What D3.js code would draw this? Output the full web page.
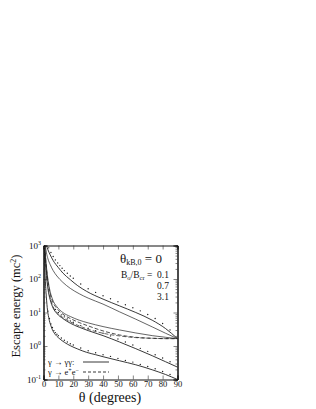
<!DOCTYPE html>
<html>
<head>
<meta charset="utf-8">
<script src="https://cdn.jsdelivr.net/npm/d3@7"></script>
<style>
  body { margin: 0; background: #fff; }
  text { font-family: "Liberation Serif", "DejaVu Serif", serif; fill: #111; }
</style>
</head>
<body>
<div id="chart"></div>
<script>
// frame of the plot inside the 316x409 page
const margin = { t: 245.5, r: 138.5, b: 29.5, l: 43.5 };
const W = 316, H = 409;

// x ticks (degrees) and y decades
const xTicks = [0, 10, 20, 30, 40, 50, 60, 70, 80, 90];
const yDecades = [-1, 0, 1, 2, 3];
const bLabels = ["0.1", "0.7", "3.1"];

// B0/Bcr = 0.1, photon splitting (solid)
const thetaTop = [2, 3, 4.5, 6.5, 10, 13, 18, 23, 29, 40, 51, 62, 73, 82, 90];
const energyTop = [1000, 741, 525, 355, 219, 151, 95.5, 63.1, 42.7, 25.1, 15.8, 10.0, 5.89, 3.31, 1.66];

// dots along the top curve
const thetaTopDots = [3.5, 5, 6.5, 8, 9.5, 11, 12.5, 14, 16, 18, 20, 25, 30, 35, 40, 45, 50, 55, 60, 65, 70, 75, 80, 85];
const energyTopDots = [851, 617, 468, 372, 302, 251, 209, 178, 148, 123, 105, 70.8, 51.3, 39.8, 31.6, 25.7, 20.9, 17.0, 13.8, 11.2, 8.71, 6.61, 4.68, 3.02];

// second curve
const thetaSecond = [1.2, 2, 3, 4.5, 6.5, 9, 13, 18, 24, 30, 40, 51, 62, 73, 82, 90];
const energySecond = [1000, 603, 398, 269, 178, 123, 79.4, 52.5, 36.3, 26.9, 17.8, 10.5, 6.31, 3.72, 2.40, 1.66];

// middle bundle
const thetaMid = [0.8, 1.5, 2.5, 4, 6, 9, 13, 18, 24, 30, 40, 51, 62, 73, 82, 90];
const energyUpper = [1000, 398, 141, 52.5, 25.1, 14.8, 10.0, 7.59, 5.89, 4.90, 3.80, 3.02, 2.45, 2.04, 1.82, 1.66];
const energyPair = [1000, 355, 126, 45.7, 21.9, 13.2, 8.91, 6.61, 5.01, 3.98, 2.82, 2.14, 1.82, 1.70, 1.66, 1.66];
const energyPairLow = [900, 316, 100, 35.5, 16.6, 10.0, 7.08, 5.25, 3.98, 3.16, 2.40, 2.00, 1.78, 1.70, 1.66, 1.66];

// B0/Bcr = 0.7 solid with dots
const thetaM = [0.6, 1.2, 2, 3, 4.5, 6.5, 9, 13, 18, 24, 30, 40, 51, 62, 73, 82, 90];
const energyM = [1000, 398, 126, 50.1, 24.0, 13.5, 9.33, 6.61, 4.79, 3.63, 2.88, 2.04, 1.32, 0.832, 0.513, 0.339, 0.234];
const thetaMDots = [8, 10, 12, 14, 16, 18, 20, 25, 30, 35, 40, 45, 50, 55, 60, 65, 70, 75, 80, 85];
const energyMDots = [12.3, 10.0, 8.51, 7.41, 6.46, 5.62, 5.13, 4.07, 3.39, 2.88, 2.40, 2.00, 1.62, 1.32, 1.07, 0.851, 0.692, 0.550, 0.437, 0.339];

// B0/Bcr = 3.1 (bottom)
const thetaBot = [0.5, 1, 1.7, 2.5, 3.5, 5, 7, 9, 11, 14, 18, 23, 29, 35, 40, 51, 62, 73, 82, 90];
const energyBot = [1000, 158, 39.8, 14.1, 7.08, 3.98, 2.51, 1.95, 1.62, 1.29, 1.02, 0.813, 0.646, 0.550, 0.479, 0.363, 0.275, 0.195, 0.141, 0.100];
const thetaBotDots = [3, 4, 5, 6, 7, 8, 9, 10, 12, 14, 16, 18, 20, 25, 30, 35, 40, 45, 50, 55, 60, 65, 70, 75, 80, 85];
const energyBotDots = [11.0, 6.61, 4.57, 3.55, 2.88, 2.51, 2.24, 2.04, 1.74, 1.48, 1.32, 1.17, 1.07, 0.871, 0.724, 0.631, 0.550, 0.490, 0.427, 0.372, 0.331, 0.282, 0.245, 0.209, 0.174, 0.141];

const zip = (xs, ys) => xs.map((x, i) => ({ t: x, e: ys[i] }));

const lines = [
  { data: zip(thetaTop, energyTop), dash: null, w: 0.9 },
  { data: zip(thetaSecond, energySecond), dash: null, w: 0.7 },
  { data: zip(thetaMid, energyUpper), dash: null, w: 0.7 },
  { data: zip(thetaMid, energyPair), dash: "4,2", w: 0.8 },
  { data: zip(thetaMid, energyPairLow), dash: "4,2", w: 0.7 },
  { data: zip(thetaM, energyM), dash: null, w: 0.9 },
  { data: zip(thetaBot, energyBot), dash: null, w: 0.9 }
];
const dots = [].concat(
  zip(thetaTopDots, energyTopDots),
  zip(thetaMDots, energyMDots),
  zip(thetaBotDots, energyBotDots)
);

const svg = d3.select("#chart").append("svg")
  .attr("width", W).attr("height", H);

const w = W - margin.l - margin.r;
const h = H - margin.t - margin.b;

const x = d3.scaleLinear().domain([0, 90]).range([margin.l, margin.l + w]);
const y = d3.scaleLog().domain([0.1, 1000]).range([margin.t + h, margin.t]);

svg.append("clipPath").attr("id", "plotclip")
  .append("rect").attr("x", margin.l).attr("y", margin.t).attr("width", w).attr("height", h);

const plot = svg.append("g").attr("clip-path", "url(#plotclip)");

const line = d3.line().x(d => x(d.t)).y(d => y(d.e)).curve(d3.curveMonotoneX);

plot.selectAll("path.curve")
  .data(lines)
  .join("path")
  .attr("class", "curve")
  .attr("d", d => line(d.data))
  .attr("fill", "none")
  .attr("stroke", "#222")
  .attr("stroke-width", d => d.w)
  .attr("stroke-dasharray", d => d.dash);

plot.selectAll("circle")
  .data(dots)
  .join("circle")
  .attr("cx", d => x(d.t))
  .attr("cy", d => y(d.e))
  .attr("r", 0.7)
  .attr("fill", "#222");

// axes, ticks pointing inward
const axB = d3.axisBottom(x).tickValues(xTicks).tickSize(-4).tickPadding(1.5).tickFormat(d3.format("d"));
const axT = d3.axisTop(x).tickValues(xTicks).tickSize(-4).tickFormat("");
const majors = yDecades.map(p => Math.pow(10, p));
const minors = [];
yDecades.slice(0, -1).forEach(p => { for (let k = 2; k < 10; k++) minors.push(k * Math.pow(10, p)); });
const axL = d3.axisLeft(y).tickValues(majors).tickSize(-4).tickFormat("");
const axR = d3.axisRight(y).tickValues(majors).tickSize(-4).tickFormat("");
const axLm = d3.axisLeft(y).tickValues(minors).tickSize(-2).tickFormat("");
const axRm = d3.axisRight(y).tickValues(minors).tickSize(-2).tickFormat("");

const gB = svg.append("g").attr("transform", `translate(0,${margin.t + h})`).call(axB);
svg.append("g").attr("transform", `translate(0,${margin.t})`).call(axT);
svg.append("g").attr("transform", `translate(${margin.l},0)`).call(axL);
svg.append("g").attr("transform", `translate(${margin.l + w},0)`).call(axR);
svg.append("g").attr("transform", `translate(${margin.l},0)`).call(axLm);
svg.append("g").attr("transform", `translate(${margin.l + w},0)`).call(axRm);
svg.selectAll(".domain").attr("stroke", "#111").attr("stroke-width", 1);
svg.selectAll(".tick line").attr("stroke", "#333").attr("stroke-width", 0.6);
gB.selectAll("text").attr("font-size", 8.5).attr("font-family", "Liberation Serif").attr("fill", "#111");

// y labels as 10 with superscript
const yl = svg.append("g").selectAll("text")
  .data(yDecades)
  .join("text")
  .attr("x", 41)
  .attr("y", d => y(Math.pow(10, d)) + 3)
  .attr("text-anchor", "end")
  .attr("font-size", 9);
yl.append("tspan").text("10");
yl.append("tspan").attr("dy", -4).attr("font-size", 6).text(d => d < 0 ? "-1" : d);

// axis titles
svg.append("text")
  .attr("x", 110).attr("y", 402)
  .attr("text-anchor", "middle")
  .attr("font-size", 14)
  .text("θ (degrees)");

const ylab = svg.append("text")
  .attr("transform", "translate(20,306) rotate(-90)")
  .attr("text-anchor", "middle")
  .attr("font-size", 12.5);
ylab.append("tspan").text("Escape energy (mc");
ylab.append("tspan").attr("dy", -4).attr("font-size", 8).text("2");
ylab.append("tspan").attr("dy", 4).text(")");

// annotation
const ann = svg.append("text").attr("x", 120).attr("y", 263).attr("font-size", 13);
ann.append("tspan").text("θ");
ann.append("tspan").attr("font-size", 8).attr("dy", 2).text("kB,0");
ann.append("tspan").attr("dy", -2).text(" = 0");

const bt = svg.append("text").attr("x", 121).attr("y", 278).attr("font-size", 9.5);
bt.append("tspan").text("B");
bt.append("tspan").attr("font-size", 6.5).attr("dy", 1.5).text("o");
bt.append("tspan").attr("dy", -1.5).text("/B");
bt.append("tspan").attr("font-size", 6.5).attr("dy", 1.5).text("cr");
bt.append("tspan").attr("dy", -1.5).text(" =");

svg.append("g").selectAll("text")
  .data(bLabels)
  .join("text")
  .attr("x", 157)
  .attr("y", (d, i) => 278 + i * 11)
  .attr("font-size", 9.5)
  .text(d => d);

// legend
const legendDash = [null, "3,2"];
const lg1 = svg.append("text").attr("x", 48).attr("y", 365).attr("font-size", 8.5);
lg1.text("γ → γγ:");
const lg2 = svg.append("text").attr("x", 48).attr("y", 375).attr("font-size", 8.5);
lg2.append("tspan").text("γ → e");
lg2.append("tspan").attr("font-size", 6).attr("baseline-shift", "super").text("+");
lg2.append("tspan").text("e");
lg2.append("tspan").attr("font-size", 6).attr("baseline-shift", "super").text("−");
legendDash.forEach((dash, i) => {
  const ly = 362 + i * 10;
  svg.append("line")
    .attr("x1", 83).attr("x2", 109).attr("y1", ly).attr("y2", ly)
    .attr("stroke", "#222").attr("stroke-width", 0.9)
    .attr("stroke-dasharray", dash);
});
</script>
</body>
</html>
